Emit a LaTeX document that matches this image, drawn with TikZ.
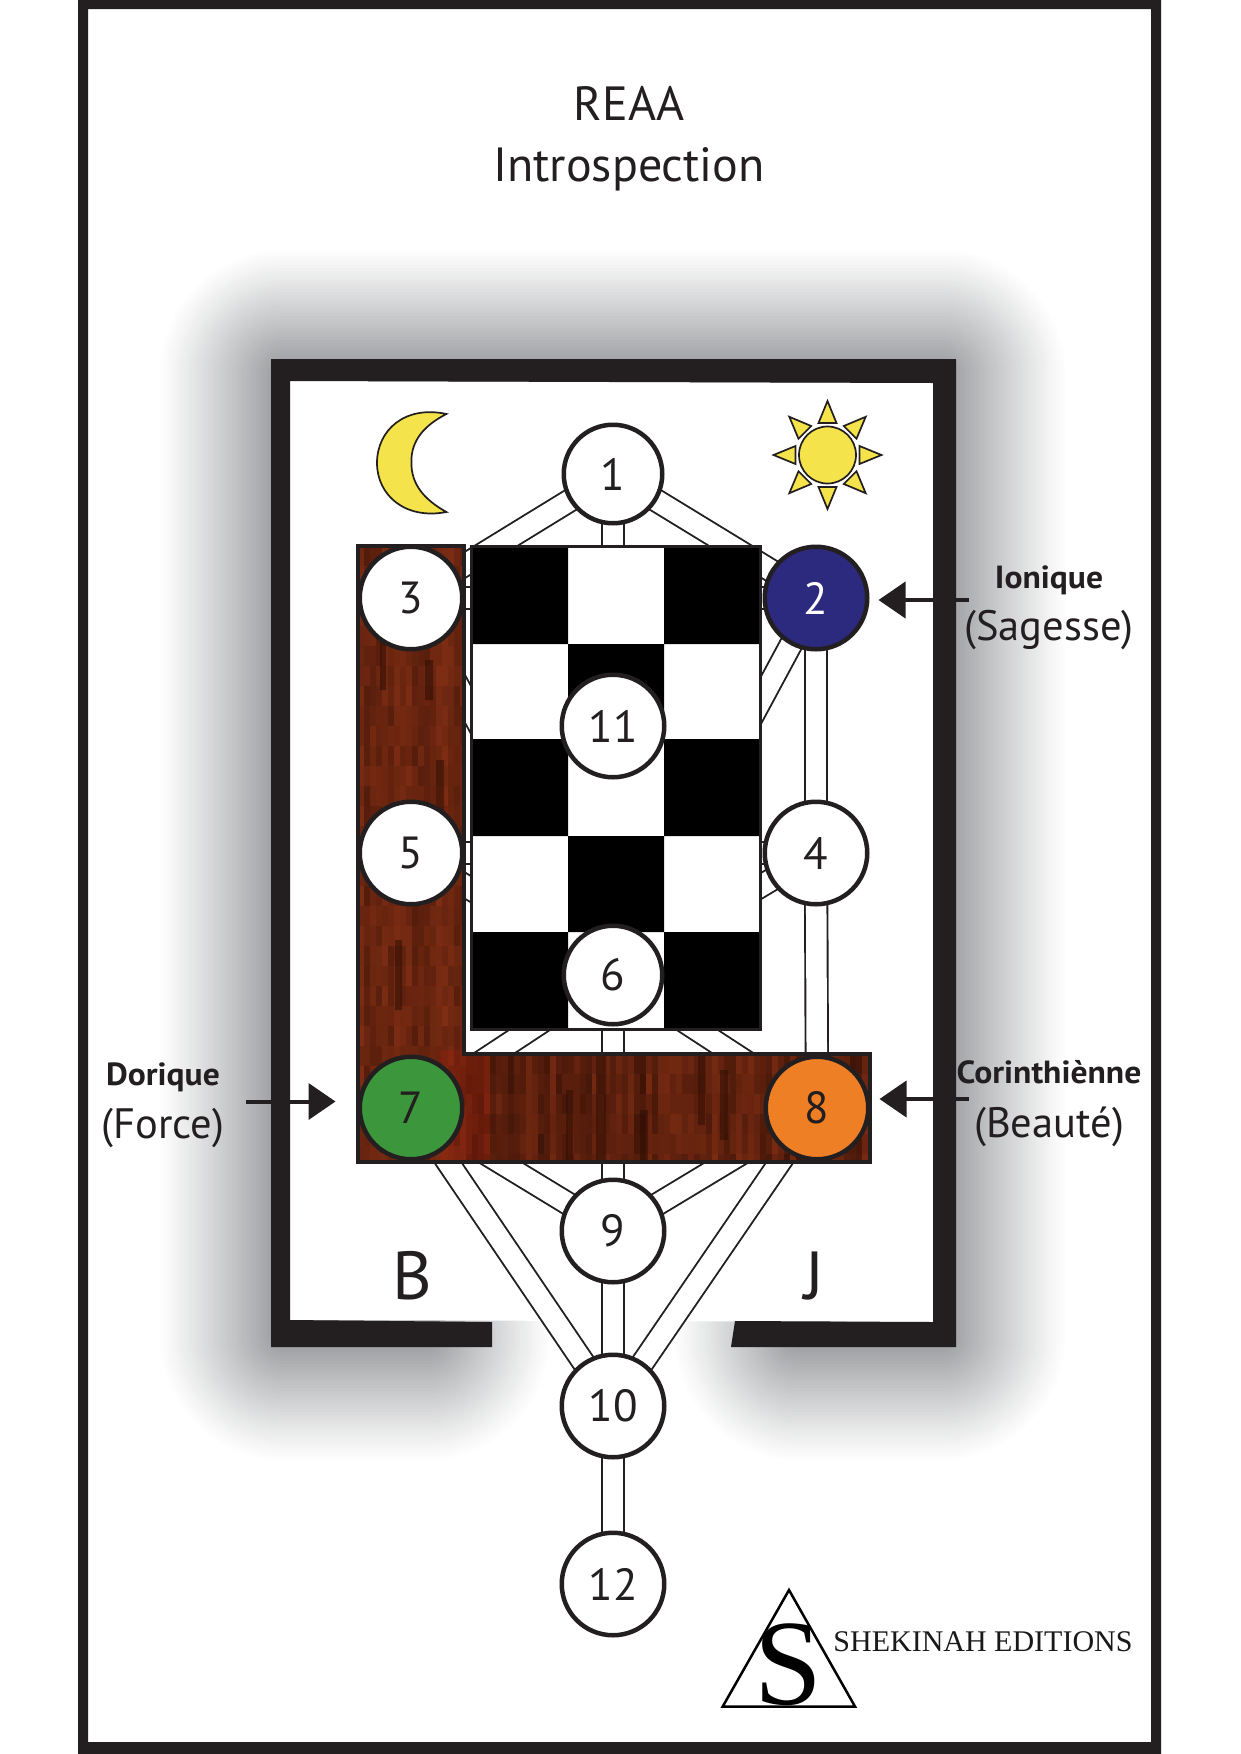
\documentclass[tikz,border=0pt]{standalone}
\usepackage{fontspec}
\setmainfont{PT Sans}
\newfontfamily\logofont{Liberation Serif}
\usetikzlibrary{arrows.meta,calc}
\definecolor{ink}{HTML}{231F20}
\definecolor{shadowc}{HTML}{939598}
\definecolor{woodL}{HTML}{8A3216}
\definecolor{woodD}{HTML}{300E04}
\definecolor{sephblue}{HTML}{2B2A7F}
\definecolor{sephgreen}{HTML}{3C963C}
\definecolor{sephorange}{HTML}{EF7F24}
\definecolor{astro}{HTML}{F4E34A}
\pgfdeclarelayer{under}
\pgfdeclarelayer{links}
\pgfsetlayers{under,links,main}
\tikzset{
  seph/.style={circle,draw=ink,fill=white,line width=4.5pt,inner sep=0pt,minimum size=102.5pt,
    text=ink,font=\fontsize{45}{47}\selectfont},
  sephsmall/.style={seph,minimum size=98.5pt},
  chan/.style={draw=ink,line width=1.9pt,double=white,double distance=20.5pt},
  astrostyle/.style={fill=astro,draw=ink,line width=1.7pt,line join=miter},
  pointer/.style={draw=ink,line width=4pt,-{Triangle[length=27pt,width=36pt,fill=ink]}},
  titletext/.style={anchor=base,text=ink,font=\fontsize{48}{50}\selectfont},
  boldlabel/.style={anchor=base,text=ink,xscale=1.05,font=\fontsize{32}{34}\selectfont\bfseries},
  namelabel/.style={anchor=base,text=ink,font=\fontsize{42.5}{46}\selectfont},
  pillarletter/.style={anchor=base,text=ink,font=\fontsize{68}{70}\selectfont},
  streak/.style={woodD,opacity=.55},
}
\begin{document}
\begin{tikzpicture}[x=1pt,y=-1pt]
\useasboundingbox (0,0) rectangle (1240,1754);

% soft shadow and lodge walls
\begin{pgfonlayer}{under}
\fill[white] (0,0) rectangle (1240,1754);
\foreach \h in {128,125,...,5}{
  \pgfmathsetmacro\g{100*pow(1-\h/128,1.1)}
  \draw[color={shadowc!\g!white},line width=2*\h pt,line cap=round,line join=round]
    (425,1335)--(285,1335)--(285,375)--(940,375)--(940,1335)--(800,1335);
}
\fill[white] (290,381)--(933,383)--(933,1322)--(290,1320)--cycle;
\fill[ink] (271,359)--(956,359)--(956,1347)--(731,1347)--(735,1321)--(933,1322)--(933,383)
  --(290,381)--(290,1320)--(492,1322)--(492,1347)--(271,1347)--cycle;
\fill[ink,even odd rule] (78,0) rectangle (1161,1754) (88,9) rectangle (1151,1742);
\end{pgfonlayer}

% wood
\begin{scope}
\clip (358,546)--(464,546)--(464,1054)--(870,1054)--(870,1162)--(358,1162)--cycle;
\fill[woodL!70!woodD] (358,546) rectangle (870,1162);
\pgfmathsetseed{17}
\foreach \cx in {358,364,...,466}{
  \pgfmathsetmacro\cd{rnd}
  \foreach \cy in {546,566,...,1162}{
    \pgfmathtruncatemacro\w{100*(0.50+0.26*\cd+0.26*rnd-0.10)}
    \fill[color={woodL!\w!woodD}] (\cx,\cy) rectangle (\cx+7,\cy+21);
  }
}
\foreach \cx in {466,472,...,870}{
  \pgfmathsetmacro\cd{rnd}
  \foreach \cy in {1054,1074,...,1162}{
    \pgfmathtruncatemacro\w{100*(0.16+0.42*\cd+0.26*rnd)}
    \fill[color={woodL!\w!woodD}] (\cx,\cy) rectangle (\cx+7,\cy+21);
  }
}
\fill[red!50!woodL,opacity=.18] (440,1050) rectangle (490,1162);
\fill[streak] (596,1054) rectangle (606,1162)
              (566,1090) rectangle (573,1162)
              (698,1054) rectangle (705,1125)
              (720,1070) rectangle (728,1140)
              (640,1110) rectangle (648,1162)
              (425,660) rectangle (433,700)
              (380,640) rectangle (386,690)
              (436,760) rectangle (444,830)
              (395,940) rectangle (402,1010);
\end{scope}
\draw[ink,line width=3.5pt] (358,546)--(464,546)--(464,1054)--(870,1054)--(870,1162)--(358,1162)--cycle;

% chequered floor
\fill[white] (471,546) rectangle (760,1029);
\fill[black] (471,546) rectangle (568,644)
             (664,546) rectangle (760,644)
             (568,644) rectangle (664,739)
             (471,739) rectangle (568,836)
             (664,739) rectangle (760,836)
             (568,836) rectangle (664,932)
             (471,932) rectangle (568,1029)
             (664,932) rectangle (760,1029);
\draw[ink,line width=3pt] (471,546) rectangle (760,1029);

% sephiroth
\node[sephsmall] (n1) at (613,474) {1};
\node[seph,fill=sephblue,text=white] (n2) at (816,598) {2};
\node[seph] (n3) at (411,598) {3};
\node[seph] (n4) at (816,853) {4};
\node[seph] (n5) at (411,853) {5};
\node[sephsmall] (n6) at (613,975) {6};
\node[seph,fill=sephgreen] (n7) at (411,1108) {7};
\node[seph,fill=sephorange] (n8) at (817,1108) {8};
\node[seph] (n9) at (613,1231) {9};
\node[seph] (n10) at (613,1406) {10};
\node[seph] (n11) at (613,726) {11};
\node[seph] (n12) at (613,1584) {12};

\begin{pgfonlayer}{links}
\foreach \a/\b in {n1/n2,n1/n3,n1/n6,n2/n3,n2/n4,n2/n6,n3/n6,n4/n5,n4/n6,n4/n8,n5/n6,
                   n6/n7,n6/n8,n6/n9,n7/n9,n7/n10,n8/n9,n8/n10,n9/n10,n10/n12}{
  \draw[chan] (\a.center) -- (\b.center);
}
\end{pgfonlayer}

% moon
\draw[astrostyle] (446.4,414) .. controls (405,405) and (377,430) .. (377,463)
  .. controls (377,495) and (405,520) .. (446.4,512)
  .. controls (425,500) and (411,485) .. (411.4,462)
  .. controls (411,440) and (425,425) .. (446.4,414) -- cycle;

% sun
\draw[astrostyle] (827.5,455) circle (28.5);
\foreach \r in {0,45,...,315}{
  \draw[astrostyle,shift={(827.5,455)},rotate=\r] (54,0)--(32,9)--(32,-9)--cycle;
}

% titles
\node[titletext] (title1) at (629,120.5) {REAA};
\node[titletext] (title2) at (629,181) {Introspection};

% order labels
\node[boldlabel] (ionique) at (1049,588) {Ionique};
\node[namelabel] (sagesse) at (1049,640) {(Sagesse)};
\node[boldlabel] (dorique) at (163,1085) {Dorique};
\node[namelabel] (force) at (163,1138) {(Force)};
\node[boldlabel] (corinth) at (1049,1083) {Corinthiènne};
\node[namelabel] (beaute) at (1049,1137) {(Beauté)};
\node[pillarletter] (pillarB) at (412,1299.5) {B};
\node[pillarletter] (pillarJ) at (814,1299.5) {J};

% arrows
\coordinate (arrD) at (246,1101.5);
\coordinate (arrI) at (969,600);
\coordinate (arrC) at (969,1099);
\draw[pointer,shorten >=22pt] (arrD) -- (arrD -| n7.west);
\draw[pointer,shorten >=9pt] (arrI) -- (arrI -| n2.east);
\draw[pointer,shorten >=9pt] (arrC) -- (arrC -| n8.east);

% publisher logo
\draw[black,line width=2.5pt,line join=miter] (789,1590)--(855,1706.5)--(722.7,1706.5)--cycle;
\node[anchor=base,text=black,font=\fontsize{122}{124}\logofont] (logoS) at (788,1704) {S};
\node[anchor=base,text=black!90,font=\fontsize{30}{32}\logofont] (logoT) at (983,1651.7) {SHEKINAH EDITIONS};
\end{tikzpicture}
\end{document}
